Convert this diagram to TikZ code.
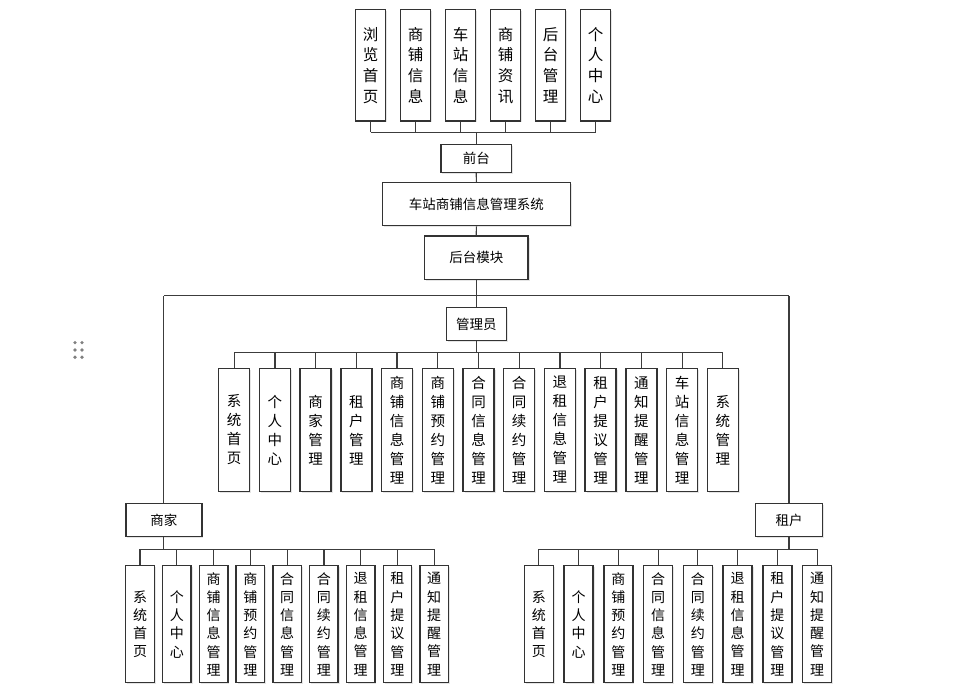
\documentclass[tikz,border=0pt]{standalone}
\usepackage{fontspec}
\newfontfamily\cjk{Noto Sans CJK SC}
\usetikzlibrary{shadows}
\definecolor{boxline}{HTML}{333333}
\definecolor{conn}{HTML}{3C3C3C}
\tikzset{
  box/.style={draw=boxline, line width=1.4pt, fill=white, inner sep=0pt, align=center,
    text=black, font=\cjk\fontsize{13.5}{16}\selectfont,
    drop shadow={shadow xshift=1.5pt, shadow yshift=-1.5pt, fill=black, opacity=0.10}},
  topbox/.style={box, minimum width=29.5pt, minimum height=111.5pt, font=\cjk\fontsize{15.5}{20.7}\selectfont},
  admbox/.style={box, minimum width=31pt, minimum height=123.4pt, font=\cjk\fontsize{14.5}{19}\selectfont},
  subbox/.style={box, minimum height=117pt, font=\cjk\fontsize{14}{18.3}\selectfont},
  wire/.style={draw=conn, line width=1.2pt},
  grip/.style={fill=black!50, draw=none}
}
\begin{document}
\begin{tikzpicture}[x=1pt,y=-1pt]
\useasboundingbox (0,0) rectangle (954,692);
% grip dots
\foreach \gx in {75,82} \foreach \gy in {342.7,350,357.3} \fill[grip] (\gx,\gy) circle (1.8);
% top row
\foreach \lab [count=\i] in {{浏\\览\\首\\页},{商\\铺\\信\\息},{车\\站\\信\\息},{商\\铺\\资\\讯},{后\\台\\管\\理},{个\\人\\中\\心}}
  \node[topbox] (t\i) at ({370.5+45*(\i-1)},65.25) {\lab};
\node[box, minimum width=70.7pt, minimum height=28pt] (qt) at (476.3,158.3) {前台};
\node[box, minimum width=188.4pt, minimum height=43pt] (sys) at (476.4,204.2) {车站商铺信息管理系统};
\node[box, minimum width=103.7pt, minimum height=43.3pt] (ht) at (476.3,257.7) {后台模块};
\node[box, minimum width=60pt, minimum height=33pt] (gly) at (476.3,324.2) {管理员};
\node[box, minimum width=76pt, minimum height=33.4pt] (sj) at (163.8,520) {商家};
\node[box, minimum width=66.6pt, minimum height=33.4pt] (zh) at (789,520) {租户};
% admin boxes
\foreach \lab [count=\i] in {{系\\统\\首\\页},{个\\人\\中\\心},{商\\家\\管\\理},{租\\户\\管\\理},{商\\铺\\信\\息\\管\\理},{商\\铺\\预\\约\\管\\理},{合\\同\\信\\息\\管\\理},{合\\同\\续\\约\\管\\理},{退\\租\\信\\息\\管\\理},{租\\户\\提\\议\\管\\理},{通\\知\\提\\醒\\管\\理},{车\\站\\信\\息\\管\\理},{系\\统\\管\\理}}
  \node[admbox] (a\i) at ({234.2+40.72*(\i-1)},430) {\lab};
% merchant boxes
\foreach \lab [count=\i] in {{系\\统\\首\\页},{个\\人\\中\\心},{商\\铺\\信\\息\\管\\理},{商\\铺\\预\\约\\管\\理},{合\\同\\信\\息\\管\\理},{合\\同\\续\\约\\管\\理},{退\\租\\信\\息\\管\\理},{租\\户\\提\\议\\管\\理},{通\\知\\提\\醒\\管\\理}}
  \node[subbox, minimum width=28.5pt] (m\i) at ({140+36.78*(\i-1)},624.2) {\lab};
% tenant boxes
\foreach \lab [count=\i] in {{系\\统\\首\\页},{个\\人\\中\\心},{商\\铺\\预\\约\\管\\理},{合\\同\\信\\息\\管\\理},{合\\同\\续\\约\\管\\理},{退\\租\\信\\息\\管\\理},{租\\户\\提\\议\\管\\理},{通\\知\\提\\醒\\管\\理}}
  \node[subbox, minimum width=29pt] (r\i) at ({538.8+39.77*(\i-1)},624.2) {\lab};
% bus coordinates
\coordinate (bt) at (0,132.3);
\coordinate (bb) at (0,295.7);
\coordinate (ba) at (0,352.3);
\coordinate (bs) at (0,549.3);
% top connectors
\foreach \i in {1,...,6} \draw[wire] (t\i.south) -- (t\i.south |- bt);
\draw[wire] (t1.south |- bt) -- (t6.south |- bt);
\draw[wire] (qt.north) -- (qt.north |- bt);
\draw[wire] (qt.south) -- (sys.north);
\draw[wire] (sys.south) -- (ht.north);
\draw[wire] (ht.south) -- (gly.north);
\draw[wire] (sj.north |- bb) -- (zh.north |- bb);
\draw[wire] (sj.north) -- (sj.north |- bb);
\draw[wire] (zh.north) -- (zh.north |- bb);
% admin
\draw[wire] (gly.south) -- (gly.south |- ba);
\draw[wire] (a1.north |- ba) -- (a13.north |- ba);
\foreach \i in {1,...,13} \draw[wire] (a\i.north) -- (a\i.north |- ba);
% merchant
\draw[wire] (sj.south) -- (sj.south |- bs);
\draw[wire] (m1.north |- bs) -- (m9.north |- bs);
\foreach \i in {1,...,9} \draw[wire] (m\i.north) -- (m\i.north |- bs);
% tenant
\draw[wire] (zh.south) -- (zh.south |- bs);
\draw[wire] (r1.north |- bs) -- (r8.north |- bs);
\foreach \i in {1,...,8} \draw[wire] (r\i.north) -- (r\i.north |- bs);
\end{tikzpicture}
\end{document}
